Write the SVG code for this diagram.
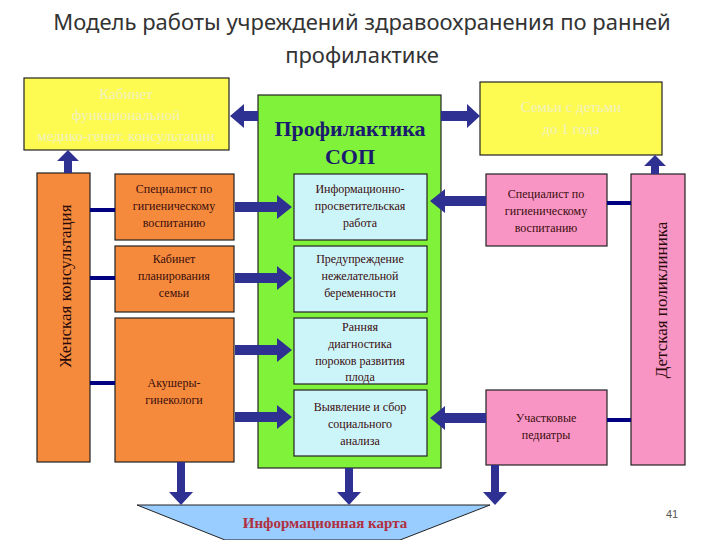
<svg xmlns="http://www.w3.org/2000/svg" width="720" height="540" viewBox="0 0 720 540">
<style>
.s{font-family:"Liberation Serif","Times New Roman","DejaVu Serif",serif}
.t{font-family:"Liberation Serif","Times New Roman","DejaVu Serif",serif;font-size:12px;fill:#3a0d0d;text-anchor:middle}
.o{fill:#f58a3c;stroke:#222;stroke-width:1.2}
.c{fill:#ccf5fa;stroke:#222;stroke-width:1.2}
.p{fill:#f995c4;stroke:#222;stroke-width:1.2}
.y{fill:#fdfb52;stroke:#222;stroke-width:1.2}
.yt{font-family:"Liberation Serif","Times New Roman","DejaVu Serif",serif;font-size:15px;fill:#f2f2c0;text-anchor:middle}
.a{fill:#2e3192}
.l{stroke:#000080;stroke-width:4}
</style>
<rect width="720" height="540" fill="#fff"/>
<text x="362" y="30" font-family="Noto Sans,sans-serif" font-size="22" fill="#333" text-anchor="middle">Модель работы учреждений здравоохранения по ранней</text>
<text x="362" y="63" font-family="Noto Sans,sans-serif" font-size="22" fill="#333" text-anchor="middle">профилактике</text>
<g id="green"><rect x="258" y="95" width="183" height="373" fill="#80f23a" stroke="#222" stroke-width="1.2"/>
<text class="s" x="350" y="136" font-size="22" font-weight="bold" fill="#1a1a6e" text-anchor="middle">Профилактика</text>
<text class="s" x="350" y="164" font-size="22" font-weight="bold" fill="#1a1a6e" text-anchor="middle">СОП</text></g>
<g id="yl"><rect class="y" x="24" y="78" width="205" height="72"/>
<text class="yt" x="126" y="99">Кабинет</text><text class="yt" x="126" y="120">функциональной</text><text class="yt" x="126" y="141">медико-генет. консультации</text></g>
<g id="yr"><rect class="y" x="480" y="82" width="182" height="73"/>
<text class="yt" x="571" y="112">Семьи с детьми</text><text class="yt" x="571" y="134">до 1 года</text></g>
<g id="zk"><rect class="o" x="37" y="173" width="53" height="289"/>
<text class="s" transform="translate(71,286) rotate(-90)" font-size="17" fill="#2a0a0a" text-anchor="middle">Женская консультация</text></g>
<g id="dp"><rect class="p" x="631" y="174" width="54" height="291"/>
<text class="s" transform="translate(667,300) rotate(-90)" font-size="17" fill="#2a0a0a" text-anchor="middle">Детская поликлиника</text></g>
<g id="o1"><rect class="o" x="115" y="174" width="119" height="66"/><text class="t" x="174" y="193">Специалист по</text><text class="t" x="174" y="210">гигиеническому</text><text class="t" x="174" y="227">воспитанию</text></g>
<g id="o2"><rect class="o" x="115" y="246" width="119" height="66"/><text class="t" x="174" y="263">Кабинет</text><text class="t" x="174" y="280">планирования</text><text class="t" x="174" y="297">семьи</text></g>
<g id="o3"><rect class="o" x="115" y="318" width="119" height="144"/><text class="t" x="174" y="387">Акушеры-</text><text class="t" x="174" y="404">гинекологи</text></g>
<g id="c1"><rect class="c" x="294" y="174" width="133" height="66"/><text class="t" x="360" y="193">Информационно-</text><text class="t" x="360" y="210">просветительская</text><text class="t" x="360" y="227">работа</text></g>
<g id="c2"><rect class="c" x="294" y="246" width="133" height="66"/><text class="t" x="360" y="263">Предупреждение</text><text class="t" x="360" y="280">нежелательной</text><text class="t" x="360" y="297">беременности</text></g>
<g id="c3"><rect class="c" x="294" y="318" width="133" height="66"/><text class="t" x="360" y="331">Ранняя</text><text class="t" x="360" y="348">диагностика</text><text class="t" x="360" y="365">пороков развития</text><text class="t" x="360" y="381">плода</text></g>
<g id="c4"><rect class="c" x="294" y="390" width="133" height="66"/><text class="t" x="360" y="411">Выявление и сбор</text><text class="t" x="360" y="428">социального</text><text class="t" x="360" y="445">анализа</text></g>
<g id="p1"><rect class="p" x="486" y="174" width="121" height="72"/><text class="t" x="546" y="198">Специалист по</text><text class="t" x="546" y="215">гигиеническому</text><text class="t" x="546" y="232">воспитанию</text></g>
<g id="p2"><rect class="p" x="486" y="390" width="121" height="75"/><text class="t" x="546" y="422">Участковые</text><text class="t" x="546" y="439">педиатры</text></g>
<g id="card"><polygon points="137,505 490,505 400,540 225,540" fill="#99ccff" stroke="#222" stroke-width="1"/>
<text class="s" x="325" y="528" font-size="15" font-weight="bold" fill="#b03040" text-anchor="middle">Информационная карта</text></g>
<text x="672" y="518" font-family="Liberation Sans,sans-serif" font-size="11" fill="#555" text-anchor="middle">41</text>
<g id="connectors">
<line class="l" x1="90" y1="210" x2="115" y2="210"/><line class="l" x1="90" y1="278" x2="115" y2="278"/><line class="l" x1="90" y1="383" x2="115" y2="383"/>
<line class="l" x1="607" y1="203" x2="631" y2="203"/><line class="l" x1="607" y1="420" x2="631" y2="420"/>
<path class="a" d="M235,202h42v-7l15,12-15,12v-7h-42z"/>
<path class="a" d="M235,273h42v-7l15,12-15,12v-7h-42z"/>
<path class="a" d="M235,345h42v-7l15,12-15,12v-7h-42z"/>
<path class="a" d="M235,412h42v-7l15,12-15,12v-7h-42z"/>
<path class="a" d="M486,196h-41v-7l-15,12 15,12v-7h41z"/>
<path class="a" d="M486,413h-41v-7l-15,12 15,12v-7h41z"/>
<path class="a" d="M258,111h-14v-7l-14,12 14,12v-7h14z"/>
<path class="a" d="M441,111h26v-7l13,12-13,12v-7h-26z"/>
<path class="a" d="M64,173v-12h-7l11,-11 11,11h-7v12z"/>
<path class="a" d="M651,174v-8h-7l11,-11 11,11h-7v8z"/>
<path class="a" d="M177,462v30h-8l12,13 12,-13h-8v-30z"/>
<path class="a" d="M345,468v24h-8l12,13 12,-13h-8v-24z"/>
<path class="a" d="M491,465v27h-8l12,13 12,-13h-8v-27z"/>
</g>
</svg>
